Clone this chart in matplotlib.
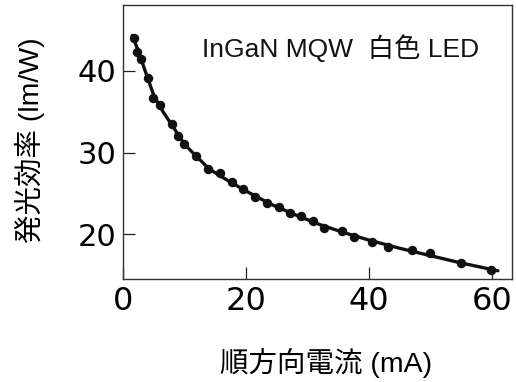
import matplotlib
matplotlib.use("Agg")
import matplotlib.pyplot as plt

plt.rcParams['font.family'] = ['Liberation Sans', 'Noto Sans CJK JP', 'DejaVu Sans']

# measured points (forward current mA, luminous efficacy lm/W)
current = [1.8, 2.3, 2.9, 4.0, 4.8, 6.0, 7.9, 8.9, 10.0, 11.9, 13.8, 15.8, 17.7,
           19.6, 21.5, 23.4, 25.4, 27.2, 28.9, 30.9, 32.7, 35.7, 37.6, 40.5,
           43.2, 47.1, 50.0, 55.0, 59.8]
efficacy = [44.0, 42.3, 41.4, 39.1, 36.7, 35.8, 33.5, 32.0, 31.0, 29.6, 28.0, 27.5,
            26.4, 25.5, 24.6, 23.8, 23.3, 22.6, 22.2, 21.6, 20.8, 20.4, 19.7,
            19.1, 18.5, 18.1, 17.7, 16.5, 15.7]

# fitted curve
fit_current = [1.5, 2.5, 3.5, 5, 6.5, 8, 10, 12, 14, 17, 20, 24, 28, 32, 36, 40,
               45, 50, 55, 61]
fit_efficacy = [44.3, 42.4, 40.2, 37.0, 35.0, 33.3, 31.0, 29.5, 28.0, 26.6, 25.3,
                23.7, 22.4, 21.2, 20.2, 19.3, 18.3, 17.4, 16.5, 15.55]

xticks = [0, 20, 40, 60]
yticks = [20, 30, 40]

fig = plt.figure(figsize=(5.16, 3.82), dpi=100)
ax = fig.add_axes([0.2384, 0.2696, 0.7533, 0.7173])

ax.plot(fit_current, fit_efficacy, color='#111111', lw=2.4, solid_capstyle='round')
ax.plot(current, efficacy, 'o', color='#111111', ms=5.8, mec='#111111')

ax.set_xlim(0, 63.25)
ax.set_ylim(14.54, 48.03)
ax.set_xticks(xticks)
ax.set_yticks(yticks)
ax.tick_params(direction='in', length=8.5, width=0.9, color='#222222')
ax.tick_params(axis='x', pad=5, labelsize=23)
ax.tick_params(axis='y', pad=5, labelsize=22)
for lab in ax.get_xticklabels() + ax.get_yticklabels():
    lab.set_family('DejaVu Sans')
for s in ax.spines.values():
    s.set_linewidth(1.0)
    s.set_color('#333333')

ax.text(0.2025, 0.81, "InGaN MQW  白色 LED", transform=ax.transAxes,
        fontsize=19, va='baseline', ha='left', color='#111111')

fig.text(326 / 516, 1 - 363 / 382, "順方向電流 (mA)", ha='center', va='center',
         fontsize=20.5)
fig.text(30 / 516, 1 - 140 / 382, "発光効率 (lm/W)", ha='center', va='center',
         rotation=90, fontsize=20.5)

fig.savefig("out.png", dpi=100)
